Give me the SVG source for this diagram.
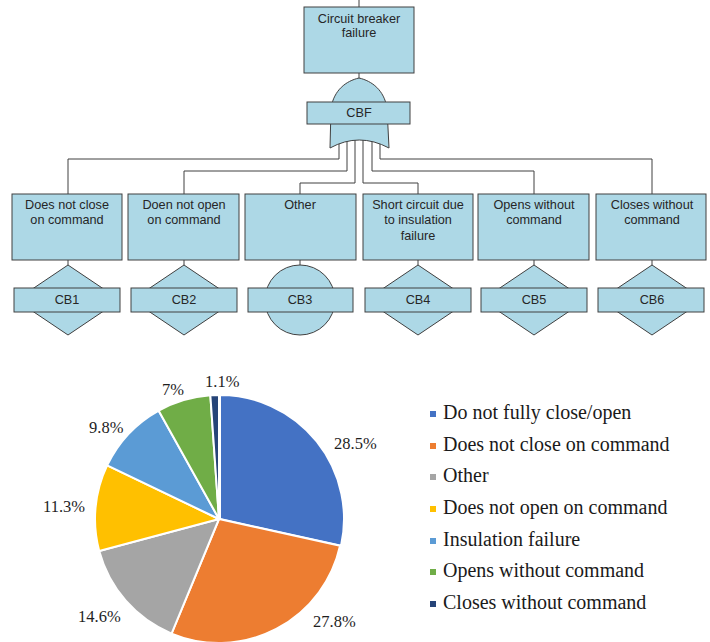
<svg xmlns="http://www.w3.org/2000/svg" width="710" height="642" viewBox="0 0 710 642">
  <style>
    .box { fill: #add8e6; stroke: #404040; stroke-width: 1; }
    .wire { fill: none; stroke: #404040; stroke-width: 1; }
    .lbl { font-family: "Liberation Sans", Arial, sans-serif; font-size: 12.7px; fill: #262626; text-anchor: middle; }
    .pct { font-family: "Liberation Serif", "Times New Roman", serif; font-size: 16.5px; fill: #1e1e1e; }
    .leg { font-family: "Liberation Serif", "Times New Roman", serif; font-size: 20px; fill: #1a1a1a; }
    .slice { stroke: #ffffff; stroke-width: 2; stroke-linejoin: round; }
  </style>
  <defs>
    <path id="diamond" d="M0,-35 L52,0 L0,35 L-52,0 Z"/>
  </defs>
  <rect width="710" height="642" fill="#ffffff"/>

  <!-- fault tree wiring -->
  <g id="connectors" class="wire">
    <line x1="359" y1="0" x2="359" y2="7"/>
    <line x1="359" y1="73" x2="359" y2="79"/>
    <polyline points="339,135 339,159 68,159 68,194"/>
    <polyline points="347,135 347,171 184,171 184,194"/>
    <polyline points="355,135 355,183 300,183 300,194"/>
    <polyline points="363,135 363,183 418,183 418,194"/>
    <polyline points="372,135 372,171 534,171 534,194"/>
    <polyline points="380,135 380,159 652,159 652,194"/>
    <line x1="68" y1="260" x2="68" y2="265"/>
    <line x1="184" y1="260" x2="184" y2="265"/>
    <line x1="300" y1="260" x2="300" y2="265"/>
    <line x1="418" y1="260" x2="418" y2="265"/>
    <line x1="534" y1="260" x2="534" y2="265"/>
    <line x1="652" y1="260" x2="652" y2="265"/>
  </g>

  <!-- top event -->
  <g id="top-event">
    <rect class="box" x="304" y="7" width="110" height="66"/>
    <text class="lbl" x="359" y="23">Circuit breaker</text>
    <text class="lbl" x="359" y="37">failure</text>
  </g>

  <!-- OR gate CBF -->
  <g id="gate-CBF">
    <path class="box" d="M359,78 C372,81 384,90 387,108 L389,148 Q359,132 330,148 L331,108 C334,90 346,81 359,78 Z"/>
    <rect class="box" x="307" y="102" width="103" height="22"/>
    <text class="lbl" x="359" y="117">CBF</text>
  </g>

  <!-- intermediate events -->
  <g id="event-1">
    <rect class="box" x="12" y="194" width="110" height="66"/>
    <text class="lbl" x="67" y="209">Does not close</text>
    <text class="lbl" x="67" y="224">on command</text>
  </g>
  <g id="event-2">
    <rect class="box" x="128" y="194" width="111" height="66"/>
    <text class="lbl" x="184" y="209">Doen not open</text>
    <text class="lbl" x="184" y="224">on command</text>
  </g>
  <g id="event-3">
    <rect class="box" x="245" y="194" width="111" height="66"/>
    <text class="lbl" x="300" y="209">Other</text>
  </g>
  <g id="event-4">
    <rect class="box" x="363" y="194" width="110" height="66"/>
    <text class="lbl" x="418" y="209">Short circuit due</text>
    <text class="lbl" x="418" y="224">to insulation</text>
    <text class="lbl" x="418" y="240">failure</text>
  </g>
  <g id="event-5">
    <rect class="box" x="478" y="194" width="111" height="66"/>
    <text class="lbl" x="534" y="209">Opens without</text>
    <text class="lbl" x="534" y="224">command</text>
  </g>
  <g id="event-6">
    <rect class="box" x="596" y="194" width="110" height="66"/>
    <text class="lbl" x="652" y="209">Closes without</text>
    <text class="lbl" x="652" y="224">command</text>
  </g>

  <!-- basic / undeveloped events -->
  <g id="CB1">
    <use href="#diamond" class="box" x="68" y="300"/>
    <rect class="box" x="14" y="288" width="106" height="24"/>
    <text class="lbl" x="67" y="304">CB1</text>
  </g>
  <g id="CB2">
    <use href="#diamond" class="box" x="184" y="300"/>
    <rect class="box" x="131" y="288" width="106" height="24"/>
    <text class="lbl" x="184" y="304">CB2</text>
  </g>
  <g id="CB3">
    <circle class="box" cx="300" cy="300" r="35"/>
    <rect class="box" x="248" y="288" width="105" height="24"/>
    <text class="lbl" x="300" y="304">CB3</text>
  </g>
  <g id="CB4">
    <use href="#diamond" class="box" x="418" y="300"/>
    <rect class="box" x="365" y="288" width="106" height="24"/>
    <text class="lbl" x="418" y="304">CB4</text>
  </g>
  <g id="CB5">
    <use href="#diamond" class="box" x="534" y="300"/>
    <rect class="box" x="481" y="288" width="106" height="24"/>
    <text class="lbl" x="534" y="304">CB5</text>
  </g>
  <g id="CB6">
    <use href="#diamond" class="box" x="652" y="300"/>
    <rect class="box" x="598" y="288" width="106" height="24"/>
    <text class="lbl" x="652" y="304">CB6</text>
  </g>

  <!-- failure mode share pie -->
  <g id="pie">
    <path class="slice" fill="#4472c4" d="M220,519 L220,395 A124,124 0 0 1 341.06,545.83 Z"/>
    <path class="slice" fill="#ed7d31" d="M219,519 L340.06,545.83 A124,124 0 0 1 171.55,633.56 Z"/>
    <path class="slice" fill="#a5a5a5" d="M219,519 L171.55,633.56 A124,124 0 0 1 99.23,551.09 Z"/>
    <path class="slice" fill="#ffc000" d="M219,519 L99.23,551.09 A124,124 0 0 1 107.17,465.42 Z"/>
    <path class="slice" fill="#5b9bd5" d="M219,519 L107.17,465.42 A124,124 0 0 1 158.70,410.65 Z"/>
    <path class="slice" fill="#70ad47" d="M219,519 L158.70,410.65 A124,124 0 0 1 210.34,395.30 Z"/>
    <path class="slice" fill="#264478" d="M219,519 L210.34,395.30 A124,124 0 0 1 219,395 Z"/>
  </g>
  <g id="pie-labels">
    <text class="pct" x="334" y="449">28.5%</text>
    <text class="pct" x="313" y="627">27.8%</text>
    <text class="pct" x="78" y="622">14.6%</text>
    <text class="pct" x="43" y="512">11.3%</text>
    <text class="pct" x="89" y="433">9.8%</text>
    <text class="pct" x="162" y="395">7%</text>
    <text class="pct" x="205" y="387">1.1%</text>
  </g>

  <!-- legend -->
  <g id="legend">
    <rect x="430" y="411" width="6" height="6" fill="#4472c4"/>
    <text class="leg" x="443" y="419">Do not fully close/open</text>
    <rect x="430" y="443" width="6" height="6" fill="#ed7d31"/>
    <text class="leg" x="443" y="451">Does not close on command</text>
    <rect x="430" y="474" width="6" height="6" fill="#a5a5a5"/>
    <text class="leg" x="443" y="482">Other</text>
    <rect x="430" y="506" width="6" height="6" fill="#ffc000"/>
    <text class="leg" x="443" y="514">Does not open on command</text>
    <rect x="430" y="538" width="6" height="6" fill="#5b9bd5"/>
    <text class="leg" x="443" y="546">Insulation failure</text>
    <rect x="430" y="569" width="6" height="6" fill="#70ad47"/>
    <text class="leg" x="443" y="577">Opens without command</text>
    <rect x="430" y="601" width="6" height="6" fill="#264478"/>
    <text class="leg" x="443" y="609">Closes without command</text>
  </g>
</svg>
